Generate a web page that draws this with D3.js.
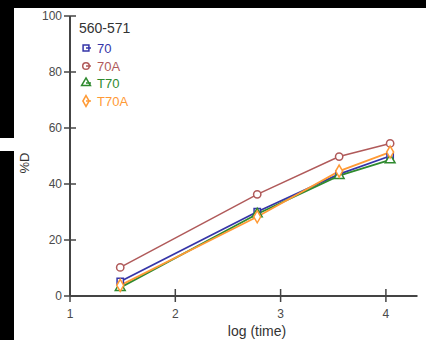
<!DOCTYPE html>
<html>
<head>
<meta charset="utf-8">
<script src="https://cdn.jsdelivr.net/npm/d3@7"></script>
<style>
html,body{margin:0;padding:0;background:#fff;}
svg{display:block;font-family:"Liberation Sans",Arial,sans-serif;}
</style>
</head>
<body>
<svg id="chart" width="426" height="340"></svg>
<script>
const xValues = [1.477, 2.778, 3.556, 4.04];
const seriesNames = ["70", "70A", "T70", "T70A"];
const s70   = [5.2, 30.1, 43.5, 50.0];
const s70A  = [10.2, 36.3, 49.8, 54.5];
const sT70  = [3.0, 29.3, 43.0, 48.6];
const sT70A = [3.8, 28.3, 44.6, 51.4];
const xTicks = [1, 2, 3, 4];
const yTicks = [0, 20, 40, 60, 80, 100];
const legendTitle = "560-571";
const xTitle = "log (time)";
const yTitle = "%D";

const colors = {"70":"#3535a8","70A":"#b05a5a","T70":"#2f8a2f","T70A":"#ff9a35"};
const shapes = {"70":d3.symbolSquare,"70A":d3.symbolCircle,"T70":d3.symbolTriangle,"T70A":d3.symbolDiamond};
const series = [
  {name:"70", values:s70},
  {name:"70A", values:s70A},
  {name:"T70", values:sT70},
  {name:"T70A", values:sT70A}
];

const svg = d3.select("#chart");
const x = d3.scaleLinear().domain([1, 4.3]).range([70, 417.5]);
const y = d3.scaleLinear().domain([0, 100]).range([296, 16]);

const axisColor = "#444";
svg.append("line").attr("x1", x(1)).attr("x2", x(4.3)).attr("y1", y(0)).attr("y2", y(0))
  .attr("stroke", axisColor).attr("stroke-width", 2);
svg.append("line").attr("x1", x(1)).attr("x2", x(1)).attr("y1", y(100)).attr("y2", y(0))
  .attr("stroke", axisColor).attr("stroke-width", 2);

const yt = svg.append("g");
yTicks.forEach(t => {
  yt.append("line").attr("x1", x(1) - 6).attr("x2", x(1) + 6).attr("y1", y(t)).attr("y2", y(t))
    .attr("stroke", axisColor).attr("stroke-width", 1.5);
  yt.append("text").attr("x", x(1) - 8).attr("y", y(t) + 4.3).attr("text-anchor", "end")
    .attr("font-size", 12).attr("fill", "#4a4a4a").text(t);
});
const xt = svg.append("g");
xTicks.forEach(t => {
  xt.append("line").attr("x1", x(t)).attr("x2", x(t)).attr("y1", y(0) - 7).attr("y2", y(0) + 6)
    .attr("stroke", axisColor).attr("stroke-width", 1.5);
  xt.append("text").attr("x", x(t)).attr("y", 318).attr("text-anchor", "middle")
    .attr("font-size", 12).attr("fill", "#4a4a4a").text(t);
});

svg.append("text").attr("x", 257).attr("y", 336).attr("text-anchor", "middle")
  .attr("font-size", 14).attr("fill", "#333").text(xTitle);
svg.append("text").attr("transform", "translate(29,163) rotate(-90)").attr("text-anchor", "middle")
  .attr("font-size", 13).attr("fill", "#333").text(yTitle);

const line = d3.line().x((d, i) => x(xValues[i])).y(d => y(d));
series.forEach(s => {
  svg.append("path").datum(s.values).attr("d", line).attr("fill", "none")
    .attr("stroke", colors[s.name]).attr("stroke-width", s.name === "70A" ? 1.5 : 1.8);
});
series.forEach(s => {
  const sym = d3.symbol().type(shapes[s.name]).size(s.name === "70" ? 40 : 42);
  svg.append("g").selectAll("path").data(s.values).join("path")
    .attr("transform", (d, i) => `translate(${x(xValues[i])},${y(d)})`)
    .attr("d", sym).attr("fill", "#fff").attr("stroke", colors[s.name]).attr("stroke-width", 1.5);
});

svg.append("text").attr("x", 79).attr("y", 33).attr("font-size", 14).attr("fill", "#333").text(legendTitle);
const ly = [48, 66, 83, 101];
series.forEach((s, i) => {
  const g = svg.append("g").attr("transform", `translate(86,${ly[i]})`);
  g.append("path").attr("d", d3.symbol().type(shapes[s.name]).size(34)).attr("fill", "#fff")
    .attr("stroke", colors[s.name]).attr("stroke-width", 1.5);
  g.append("line").attr("x1", 0).attr("x2", 5).attr("y1", 0).attr("y2", 0)
    .attr("stroke", colors[s.name]).attr("stroke-width", 1.5);
  svg.append("text").attr("x", 97).attr("y", ly[i] + 4.5).attr("font-size", 13)
    .attr("fill", colors[s.name]).text(s.name);
});

svg.append("rect").attr("x", 0).attr("y", 0).attr("width", 426).attr("height", 8).attr("fill", "#000");
svg.append("rect").attr("x", 0).attr("y", 0).attr("width", 14).attr("height", 138).attr("fill", "#000");
svg.append("rect").attr("x", 0).attr("y", 151).attr("width", 14).attr("height", 189).attr("fill", "#000");
</script>
</body>
</html>
